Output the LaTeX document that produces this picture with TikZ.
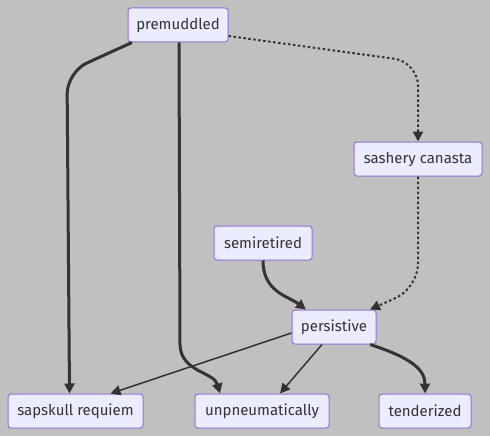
\documentclass[tikz,border=0pt]{standalone}
\usepackage{fontspec}
\setmainfont{Fira Sans}
\usetikzlibrary{arrows.meta}
\definecolor{bgcol}{HTML}{C0C0C0}
\definecolor{boxfill}{HTML}{ECECFF}
\definecolor{boxline}{HTML}{9370DB}
\definecolor{ink}{HTML}{333333}
\tikzset{
	box/.style={
		draw=boxline,
		fill=boxfill,
		line width=1pt,
		rounded corners=3pt,
		minimum height=34pt,
		inner sep=0pt,
		text=ink,
		font=\fontsize{15}{18}\selectfont,
	},
	link/.style={
		draw=ink,
		line width=1.5pt,
		-{Triangle[length=10pt,width=10pt]},
	},
	heavy/.style={
		link,
		line width=3pt,
	},
	maybe/.style={
		link,
		line width=2pt,
		dash pattern=on 2.5pt off 2.5pt,
		-{Triangle[length=10pt,width=10pt]},
	},
}

\begin{document}
\begin{tikzpicture}[x=1pt,y=-1pt]
	\fill[bgcol] (0,0) rectangle (490,436);
	\useasboundingbox (0,0) rectangle (490,436);

	\node[box,minimum width=100pt] (premuddled) at (178,25) {premuddled};
	\node[box,minimum width=128pt] (sashery) at (418,159) {sashery canasta};
	\node[box,minimum width=98pt] (semiretired) at (263,243) {semiretired};
	\node[box,minimum width=84pt] (persistive) at (334,327) {persistive};
	\node[box,minimum width=135pt] (sapskull) at (75.5,411) {sapskull requiem};
	\node[box,minimum width=134pt] (unpneumatically) at (262,411) {unpneumatically};
	\node[box,minimum width=92pt] (tenderized) at (425,411) {tenderized};

	% edges out of premuddled
	\draw[heavy,rounded corners=22pt] ([xshift=-46pt]premuddled.south) -- (67,72) -- ([xshift=-6pt]sapskull.north);
	\draw[heavy] ([xshift=1pt]premuddled.south) -- (180,345) .. controls (181,372) and (214,372) .. ([xshift=-42pt]unpneumatically.north);
	\draw[maybe,rounded corners=24pt] ([yshift=-11pt]premuddled.east) -- (418,62) -- (sashery.north);

	% into persistive
	\draw[maybe,rounded corners=24pt] (sashery.south) -- (418,288) -- ([xshift=36pt]persistive.north);
	\draw[heavy] (semiretired.south) .. controls (263,292) and (288,296) .. ([xshift=-28pt]persistive.north);

	% out of persistive
	\draw[link] ([yshift=-6pt]persistive.west) -- ([xshift=35pt]sapskull.north);
	\draw[link] ([xshift=-12pt]persistive.south) -- ([xshift=18pt]unpneumatically.north);
	\draw[heavy] ([xshift=36pt]persistive.south) .. controls (412,358) and (425,370) .. (tenderized.north);
\end{tikzpicture}
\end{document}
